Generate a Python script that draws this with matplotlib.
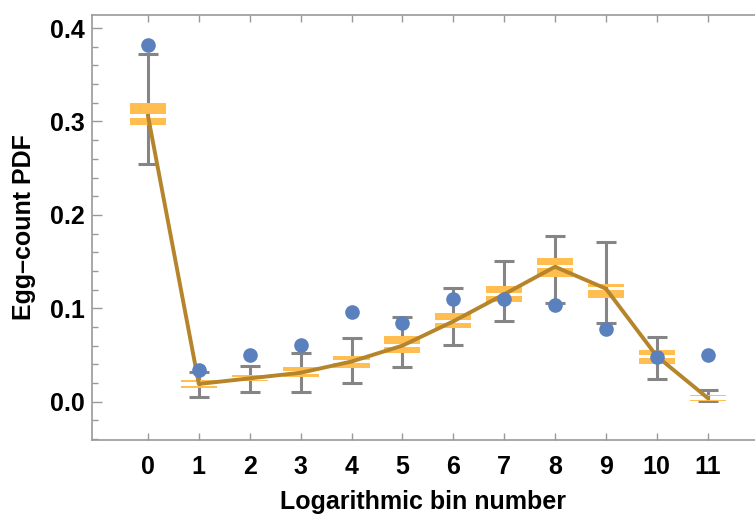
import numpy as np
import matplotlib
matplotlib.use('Agg')
import matplotlib.pyplot as plt
from matplotlib.ticker import MultipleLocator

plt.rcParams['font.family'] = ['Liberation Sans', 'DejaVu Sans']
plt.rcParams['font.weight'] = 'bold'

# bin numbers
bins = np.arange(12)
# observed egg-count PDF (blue dots)
observed = [0.382, 0.034, 0.050, 0.061, 0.096, 0.084, 0.110, 0.110, 0.104, 0.078, 0.048, 0.050]
# gray error bar ends
err_hi = [0.372, 0.032, 0.038, 0.052, 0.068, 0.091, 0.122, 0.151, 0.177, 0.171, 0.069, 0.013]
err_lo = [0.255, 0.005, 0.010, 0.010, 0.020, 0.037, 0.061, 0.086, 0.106, 0.084, 0.024, 0.001]
# model curve (brown line)
model = [0.306, 0.019, 0.025, 0.031, 0.043, 0.060, 0.086, 0.115, 0.1445, 0.121, 0.0487, 0.004]
# orange model band
band_hi = [0.3195, 0.0228, 0.0289, 0.0367, 0.0492, 0.0706, 0.0949, 0.1244, 0.1543, 0.1262, 0.0549, 0.0070]
band_lo = [0.2960, 0.0146, 0.0217, 0.0260, 0.0360, 0.0521, 0.0788, 0.1066, 0.1340, 0.1109, 0.0403, 0.0010]

config = {
    'gray': '#858585',
    'blue': '#5A80BE',
    'orange': '#FFBE4F',
    'brown': '#B5842B',
    'gap': 0.0018,
    'boxWidth': 0.71,
    'fontSize': 18,
}

fig = plt.figure(figsize=(7.55, 5.17), dpi=100)
ax = fig.add_axes([92 / 755, 1 - 440 / 517, 1 - 92 / 755, (440 - 15) / 517])

model_a = np.array(model)
err_lo_a = np.array(err_lo)
err_hi_a = np.array(err_hi)
mid = (err_lo_a + err_hi_a) / 2
ax.errorbar(bins, mid, yerr=(err_hi_a - err_lo_a) / 2, fmt='none',
            ecolor=config['gray'], elinewidth=2.2, capsize=7.5, capthick=2.2, zorder=1)

lo_a = np.array(band_lo)
hi_a = np.array(band_hi)
g = config['gap']
ax.bar(bins, model_a - g - lo_a, bottom=lo_a, width=config['boxWidth'],
       color=config['orange'], linewidth=0, zorder=2)
ax.bar(bins, hi_a - model_a - g, bottom=model_a + g, width=config['boxWidth'],
       color=config['orange'], linewidth=0, zorder=2)

ax.plot(bins, model, color=config['brown'], linewidth=2.8, zorder=3)
ax.plot(bins, observed, 'o', color=config['blue'], markersize=9.5, zorder=4)

ax.set_xlim(-1.1, 11.93)
ax.set_ylim(-0.041, 0.414)
ax.set_xticks(bins)
ax.yaxis.set_major_locator(MultipleLocator(0.1))
ax.yaxis.set_minor_locator(MultipleLocator(0.02))
ax.yaxis.set_major_formatter(plt.FuncFormatter(lambda v, p: '%.1f' % v))

for s in ['left', 'bottom', 'top']:
    ax.spines[s].set_color('#999999')
    ax.spines[s].set_linewidth(1.2)
ax.spines['right'].set_visible(False)

ax.tick_params(axis='both', which='both', direction='in', color='#999999',
               labelsize=config['fontSize'], width=1)
ax.tick_params(axis='x', which='major', length=5, top=True, pad=11)
ax.tick_params(axis='y', which='major', length=7, pad=5)
ax.tick_params(axis='y', which='minor', length=4)

ax.set_xlabel('Logarithmic bin number', fontsize=config['fontSize'], fontweight='bold', labelpad=8)
ax.set_ylabel('Egg\u2013count PDF', fontsize=config['fontSize'], fontweight='bold')
ax.yaxis.set_label_coords(-0.085, 0.5)

plt.savefig('out.png', dpi=100)
